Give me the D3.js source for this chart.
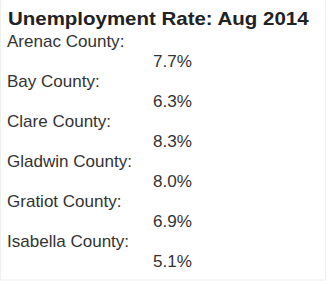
<!DOCTYPE html>
<html><head><meta charset="utf-8">
<script src="https://cdn.jsdelivr.net/npm/d3@7"></script>
<style>html,body{margin:0;padding:0;background:#fff;}</style>
</head><body>
<script>
const title = "Unemployment Rate: Aug 2014";
const counties = ["Arenac County:", "Bay County:", "Clare County:", "Gladwin County:", "Gratiot County:", "Isabella County:"];
const rates = [7.7, 6.3, 8.3, 8.0, 6.9, 5.1];

const W = 331, H = 286;
const FONT = "'Liberation Sans', Arial, Helvetica, sans-serif";
const svg = d3.select("body").append("svg").attr("width", W).attr("height", H);
svg.append("rect").attr("width", W).attr("height", H).attr("fill", "#fff");
svg.append("rect").attr("x", 0.5).attr("y", -1).attr("width", 325).attr("height", 281)
  .attr("fill", "none").attr("stroke", "#eef0ee");

svg.append("text").attr("transform", "translate(8,25) scale(1.107,1)")
  .attr("font-family", FONT).attr("font-weight", "bold")
  .attr("font-size", 18.5).attr("fill", "#222").text(title);

const y = d3.scaleBand().domain(d3.range(counties.length)).range([31, 271]);
const g = svg.append("g").attr("font-family", FONT).attr("font-size", 16).attr("fill", "#333");
g.selectAll("text.c").data(counties).join("text").attr("class", "c")
  .attr("transform", (d, i) => `translate(7,${y(i) + 16}) scale(1.065,1)`).text(d => d);
g.selectAll("text.v").data(rates).join("text").attr("class", "v")
  .attr("transform", (d, i) => `translate(153,${y(i) + 36}) scale(1.07,1)`).text(d => d.toFixed(1) + "%");
</script>
</body></html>
